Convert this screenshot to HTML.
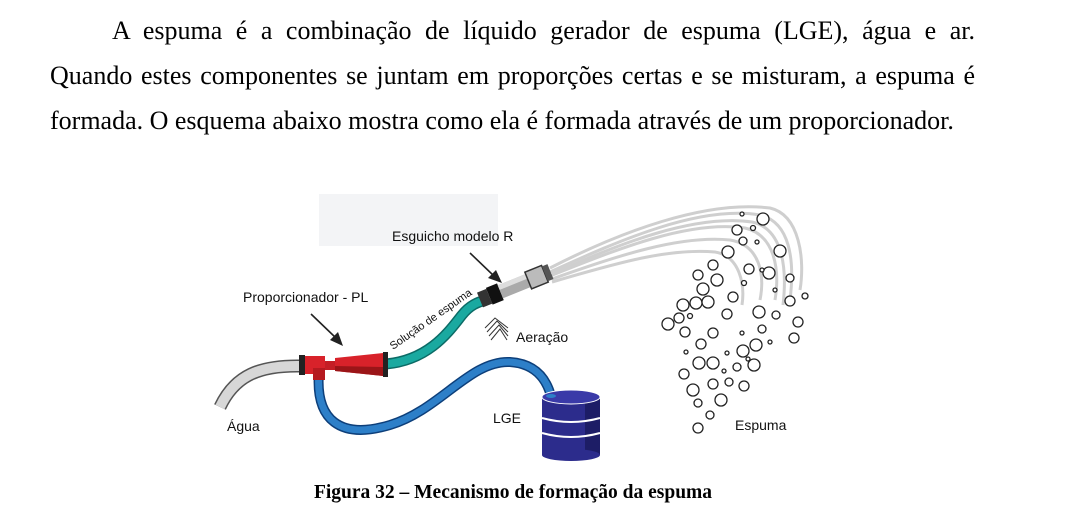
<!DOCTYPE html>
<html><head><meta charset="utf-8"><style>
html,body{margin:0;padding:0;background:#fff;width:1065px;height:522px;overflow:hidden;position:relative}
.p{position:absolute;font-family:"Liberation Serif",serif;font-size:26px;color:#000;white-space:nowrap;text-align:justify;text-align-last:justify}
.cap{position:absolute;left:0;width:1026px;top:482px;text-align:center;font-family:"Liberation Serif",serif;font-weight:bold;font-size:19.5px;white-space:nowrap}
svg{position:absolute;left:0;top:0}
svg text{font-family:"Liberation Sans",sans-serif;font-size:14px;fill:#111}
</style></head><body>
<div class="p" style="left:112px;top:16px;width:863px">A espuma é a combinação de líquido gerador de espuma (LGE), água e ar.</div>
<div class="p" style="left:50px;top:61px;width:925px">Quando estes componentes se juntam em proporções certas e se misturam, a espuma é</div>
<div class="p" style="left:50px;top:106px;text-align-last:left">formada. O esquema abaixo mostra como ela é formada através de um proporcionador.</div>

<svg width="1065" height="522" viewBox="0 0 1065 522">
<rect x="319" y="194" width="179" height="52" fill="#f3f4f6"/>
<g fill="none" stroke="#cfcfcf" stroke-width="3">
<path d="M550 272 C620 240 700 205 760 215 C790 222 795 260 790 300"/>
<path d="M550 276 C620 248 690 220 745 228 C775 235 780 270 775 300"/>
<path d="M550 268 C620 232 705 200 770 208 C800 215 805 260 800 290"/>
<path d="M552 279 C620 255 680 235 730 240 C760 245 765 275 760 300"/>
<path d="M552 282 C620 262 670 248 715 252 C740 256 745 285 742 305"/>
<path d="M552 274 C620 243 695 214 752 222 C780 228 788 262 783 305"/>
</g>
<path d="M220 407 C235 375 260 365 302 366" fill="none" stroke="#555" stroke-width="13"/>
<path d="M220 407 C235 375 260 365 302 366" fill="none" stroke="#d7d7d7" stroke-width="10"/>
<path d="M319 372 C315 420 340 440 390 425 C440 410 470 360 510 362 C540 364 548 385 551 396" fill="none" stroke="#0d3f7a" stroke-width="10"/>
<path d="M319 372 C315 420 340 440 390 425 C440 410 470 360 510 362 C540 364 548 385 551 396" fill="none" stroke="#2d7fc8" stroke-width="7"/>
<path d="M386 364 C430 360 450 330 462 315 C470 305 478 302 486 300" fill="none" stroke="#0b6b66" stroke-width="11"/>
<path d="M386 364 C430 360 450 330 462 315 C470 305 478 302 486 300" fill="none" stroke="#1aa9a0" stroke-width="8"/>
<rect x="299" y="355" width="6" height="20" fill="#222"/>
<rect x="305" y="356" width="20" height="18" fill="#d8222a"/>
<rect x="313" y="368" width="12" height="12" fill="#b51a20"/>
<rect x="325" y="361" width="10" height="9" fill="#c41e25"/>
<polygon points="335,358 383,353 383,376 335,371" fill="#d8222a"/>
<polygon points="335,366 383,367 383,376 335,371" fill="#9b1518"/>
<rect x="383" y="352" width="5" height="25" fill="#222"/>
<g transform="translate(480,300) rotate(-22)">
<rect x="0" y="-8" width="10" height="16" fill="#333"/>
<rect x="10" y="-9" width="12" height="18" fill="#111"/>
<rect x="22" y="-7" width="30" height="14" fill="#aaa"/>
<rect x="22" y="-7" width="30" height="5" fill="#ddd"/>
<rect x="52" y="-9" width="18" height="18" fill="#bbb" stroke="#333" stroke-width="1.5"/>
<rect x="70" y="-8" width="6" height="16" fill="#555"/>
</g>
<g fill="none" stroke="#333" stroke-width="1">
<path d="M485 328 L495 318 L508 328"/><path d="M487 332 L497 321 L508 332"/><path d="M489 336 L499 325 L508 336"/><path d="M491 340 L500 329 L507 340"/>
</g>
<g stroke="#222" stroke-width="1.6"><line x1="311" y1="314" x2="336" y2="338"/><line x1="470" y1="253" x2="494" y2="276"/></g>
<polygon points="343,346 330,340 338,332" fill="#222"/>
<polygon points="502,283 488,278 496,270" fill="#222"/>
<rect x="542" y="397" width="58" height="58" fill="#2c2c8c"/>
<rect x="585" y="397" width="15" height="58" fill="#1d1d66"/>
<ellipse cx="571" cy="455" rx="29" ry="6" fill="#2c2c8c"/>
<ellipse cx="571" cy="397" rx="29" ry="7" fill="#3a3aa8" stroke="#fff" stroke-width="1"/>
<path d="M542 418 Q571 426 600 418 M542 433 Q571 441 600 433" stroke="#fff" stroke-width="2" fill="none"/>
<ellipse cx="551" cy="396" rx="5" ry="2" fill="#2d7fc8"/>
<g fill="#fff" stroke="#222" stroke-width="1.3">
<circle cx="763" cy="219" r="6"/><circle cx="737" cy="230" r="5"/><circle cx="743" cy="241" r="4"/><circle cx="728" cy="252" r="6"/><circle cx="780" cy="251" r="6"/><circle cx="713" cy="265" r="5"/><circle cx="749" cy="269" r="5"/><circle cx="769" cy="273" r="6"/><circle cx="698" cy="275" r="5"/><circle cx="717" cy="280" r="6"/><circle cx="790" cy="278" r="4"/><circle cx="703" cy="289" r="6"/><circle cx="683" cy="305" r="6"/><circle cx="696" cy="303" r="6"/><circle cx="708" cy="302" r="6"/><circle cx="733" cy="297" r="5"/><circle cx="790" cy="301" r="5"/><circle cx="679" cy="318" r="5"/><circle cx="668" cy="324" r="6"/><circle cx="727" cy="314" r="5"/><circle cx="759" cy="312" r="6"/><circle cx="776" cy="315" r="4"/><circle cx="798" cy="322" r="5"/><circle cx="685" cy="332" r="5"/><circle cx="713" cy="333" r="5"/><circle cx="762" cy="329" r="4"/><circle cx="794" cy="338" r="5"/><circle cx="701" cy="344" r="5"/><circle cx="756" cy="345" r="6"/><circle cx="743" cy="351" r="6"/><circle cx="699" cy="363" r="6"/><circle cx="713" cy="363" r="6"/><circle cx="754" cy="365" r="6"/><circle cx="737" cy="367" r="4"/><circle cx="684" cy="374" r="5"/><circle cx="729" cy="382" r="4"/><circle cx="713" cy="384" r="5"/><circle cx="744" cy="386" r="5"/><circle cx="693" cy="390" r="6"/><circle cx="721" cy="400" r="6"/><circle cx="698" cy="403" r="4"/><circle cx="710" cy="415" r="4"/><circle cx="698" cy="428" r="5"/>
<circle cx="742" cy="214" r="2"/><circle cx="753" cy="228" r="2.5"/><circle cx="757" cy="242" r="2"/><circle cx="744" cy="283" r="2.5"/><circle cx="775" cy="290" r="2"/><circle cx="805" cy="296" r="3"/><circle cx="690" cy="316" r="2.5"/><circle cx="742" cy="333" r="2"/><circle cx="727" cy="353" r="2"/><circle cx="686" cy="352" r="2"/><circle cx="748" cy="359" r="2"/><circle cx="724" cy="371" r="2"/><circle cx="770" cy="342" r="2"/><circle cx="762" cy="270" r="2"/>
</g>
<text x="392" y="241">Esguicho modelo R</text>
<text x="243" y="302">Proporcionador - PL</text>
<text x="516" y="342">Aeração</text>
<text x="227" y="431">Água</text>
<text x="493" y="423">LGE</text>
<text x="735" y="430">Espuma</text>
<text transform="translate(393,350) rotate(-35)" style="font-size:11px">Solução de espuma</text>
</svg>
<div class="cap">Figura 32 – Mecanismo de formação da espuma</div>
</body></html>
